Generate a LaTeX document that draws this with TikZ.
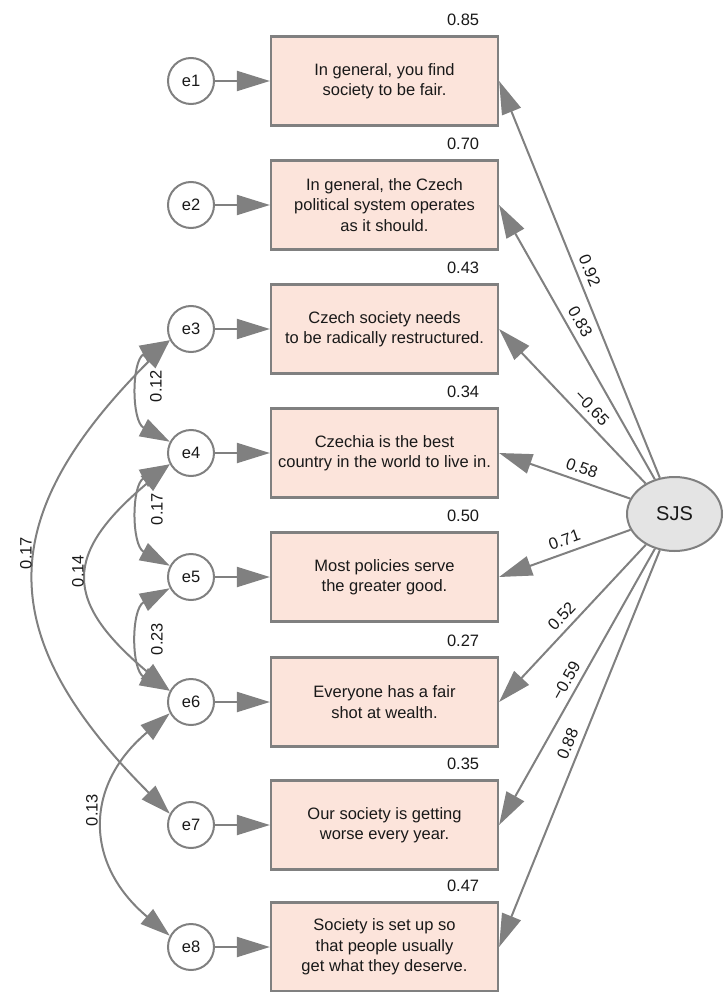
\documentclass[tikz,border=0pt]{standalone}
\usepackage{fontspec}
\setmainfont{Liberation Sans}
\usetikzlibrary{arrows.meta,shapes.geometric}
\definecolor{boxfill}{RGB}{252,228,219}
\definecolor{edgegray}{RGB}{128,128,128}
\definecolor{sjsfill}{RGB}{228,228,228}
\definecolor{txt}{RGB}{25,25,25}
\begin{document}
\begin{tikzpicture}[x=1pt,y=1pt,
  item/.style={draw=edgegray, line width=2.2pt, fill=boxfill, minimum width=227pt, minimum height=89pt, align=center, font=\fontsize{16.5}{20.5}\selectfont, text=txt, inner sep=0pt},
  err/.style={circle, draw=edgegray, line width=2pt, fill=white, minimum size=46pt, inner sep=0pt, font=\fontsize{16.5}{20}\selectfont, text=txt},
  lat/.style={ellipse, draw=edgegray, line width=2pt, fill=sjsfill, minimum width=95pt, minimum height=74pt, inner sep=0pt, font=\fontsize{20}{24}\selectfont, text=txt},
  arr/.style={draw=edgegray, line width=2pt, -{Triangle[length=33pt,width=20pt]}},
  cov/.style={draw=edgegray, line width=2pt, {Triangle[length=30pt,width=19pt]}-{Triangle[length=30pt,width=19pt]}},
  lab/.style={font=\fontsize{16.5}{20}\selectfont, text=txt, inner sep=2pt},
  r2lab/.style={font=\fontsize{16.5}{20}\selectfont, text=txt, inner sep=0pt},
]
\useasboundingbox (0,0) rectangle (724,-992);

% indicator boxes
\node[item] (b1) at (384.5,-81)  {In general, you find\\society to be fair.};
\node[item] (b2) at (384.5,-205) {In general, the Czech\\political system operates\\as it should.};
\node[item] (b3) at (384.5,-329) {Czech society needs\\to be radically restructured.};
\node[item] (b4) at (384.5,-453) {Czechia is the best\\country in the world to live in.};
\node[item] (b5) at (384.5,-577) {Most policies serve\\the greater good.};
\node[item] (b6) at (384.5,-702) {Everyone has a fair\\shot at wealth.};
\node[item] (b7) at (384.5,-825) {Our society is getting\\worse every year.};
\node[item] (b8) at (384.5,-947) {Society is set up so\\that people usually\\get what they deserve.};

% R2 values
\node[r2lab] (r1) at ([xshift=-36pt,yshift=16pt]b1.north east) {0.85};
\node[r2lab] (r2) at ([xshift=-36pt,yshift=16pt]b2.north east) {0.70};
\node[r2lab] (r3) at ([xshift=-36pt,yshift=16pt]b3.north east) {0.43};
\node[r2lab] (r4) at ([xshift=-36pt,yshift=16pt]b4.north east) {0.34};
\node[r2lab] (r5) at ([xshift=-36pt,yshift=16pt]b5.north east) {0.50};
\node[r2lab] (r6) at ([xshift=-36pt,yshift=16pt]b6.north east) {0.27};
\node[r2lab] (r7) at ([xshift=-36pt,yshift=16pt]b7.north east) {0.35};
\node[r2lab] (r8) at ([xshift=-36pt,yshift=16pt]b8.north east) {0.47};

% error terms
\node[err] (e1) at (191,-81)  {e1};
\node[err] (e2) at (191,-205) {e2};
\node[err] (e3) at (191,-329) {e3};
\node[err] (e4) at (191,-453) {e4};
\node[err] (e5) at (191,-577) {e5};
\node[err] (e6) at (191,-702) {e6};
\node[err] (e7) at (191,-825) {e7};
\node[err] (e8) at (191,-947) {e8};

% latent
\node[lat] (sjs) at (674.5,-514) {SJS};

% error arrows
\foreach \i in {1,...,8} {
  \draw[arr] (e\i) -- (b\i);
}

% loadings
\draw[arr] (sjs) -- node[lab, sloped, above=4pt, pos=.51] (l1) {0.92} (b1.east);
\draw[arr] (sjs) -- node[lab, sloped, above=4pt, pos=.55] (l2) {0.83} (b2.east);
\draw[arr] (sjs) -- node[lab, sloped, above=4pt, pos=.43] (l3) {−0.65} (b3.east);
\draw[arr] (sjs) -- node[lab, sloped, above=4pt, pos=.40] (l4) {0.58} (b4.east);
\draw[arr] (sjs) -- node[lab, sloped, above=4pt, pos=.47] (l5) {0.71} (b5.east);
\draw[arr] (sjs) -- node[lab, sloped, above=4pt, pos=.51] (l6) {0.52} (b6.east);
\draw[arr] (sjs) -- node[lab, sloped, above=4pt, pos=.50] (l7) {−0.59} (b7.east);
\draw[arr] (sjs) -- node[lab, sloped, above=4pt, pos=.50] (l8) {0.88} (b8.east);

% covariances
\draw[cov] (e3.208) to[out=225,in=135,looseness=1.36] (e7.152);
\draw[cov] (e4.208) to[out=220,in=140,looseness=1.58] (e6.152);
\draw[cov] (e6.208) to[out=220,in=140,looseness=1.29] (e8.152);
\draw[cov] (e3.208) to[out=208,in=152,looseness=1.1] (e4.152);
\draw[cov] (e4.208) to[out=208,in=152,looseness=1.1] (e5.152);
\draw[cov] (e5.208) to[out=208,in=152,looseness=1.1] (e6.152);

\node[lab, rotate=90] (c34) at (156,-386) {0.12};
\node[lab, rotate=90] (c45) at (157,-509) {0.17};
\node[lab, rotate=90] (c56) at (157,-639) {0.23};
\node[lab, rotate=90] (c46) at (78,-571) {0.14};
\node[lab, rotate=90] (c37) at (26,-553) {0.17};
\node[lab, rotate=90] (c68) at (92,-810) {0.13};
\end{tikzpicture}
\end{document}
